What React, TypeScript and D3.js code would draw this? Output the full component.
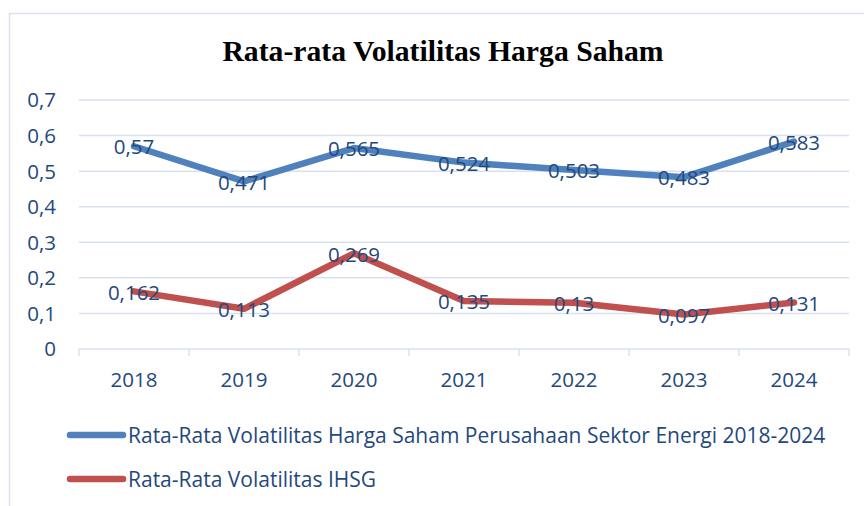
import React from "react";
import * as d3 from "d3";

const years = ["2018", "2019", "2020", "2021", "2022", "2023", "2024"];
const energi = [0.57, 0.471, 0.565, 0.524, 0.503, 0.483, 0.583];
const ihsg = [0.162, 0.113, 0.269, 0.135, 0.13, 0.097, 0.131];
const yTicks = [0, 0.1, 0.2, 0.3, 0.4, 0.5, 0.6, 0.7];
const seriesNames = [
  "Rata-Rata Volatilitas Harga Saham Perusahaan Sektor Energi 2018-2024",
  "Rata-Rata Volatilitas IHSG",
];
const title = "Rata-rata Volatilitas Harga Saham";

const W = 864;
const H = 506;
const left = 79;
const right = 849;
const top = 100;
const bottom = 349;
const FONT = "'Open Sans', sans-serif";
const FS = 20.5;
const TXT = "#1F497D";
const GRID = "#D9E1F0";
const BLUE = "#4F81BD";
const RED = "#C0504D";

const fmt = (v: number) => String(v).replace(".", ",");

export default function App() {
  const x = d3.scaleBand<string>().domain(years).range([left, right]);
  const y = d3.scaleLinear().domain([0, 0.7]).range([bottom, top]);
  const cx = (d: string) => (x(d) as number) + x.bandwidth() / 2;
  const line = d3
    .line<number>()
    .x((_, i) => cx(years[i]))
    .y((v) => y(v));
  const series = [
    { name: seriesNames[0], data: energi, color: BLUE },
    { name: seriesNames[1], data: ihsg, color: RED },
  ];
  const boundaries = [...years.map((d) => x(d) as number), right];

  return (
    <svg width={W} height={H} style={{ position: "absolute", left: 0, top: 0, background: "#fff" }}>
      <line x1={9} x2={W} y1={13.5} y2={13.5} stroke="#D9E1F0" strokeWidth={1.5} />
      <line x1={9.5} x2={9.5} y1={13} y2={H} stroke="#D9E1F0" strokeWidth={1.5} />
      <text
        x={443}
        y={61}
        textAnchor="middle"
        fontFamily="'Liberation Serif', 'Times New Roman', serif"
        fontWeight="bold"
        fontSize={29.7}
        fill="#000"
      >
        {title}
      </text>
      {yTicks.map((t) => (
        <g key={t}>
          <line x1={left} x2={right} y1={y(t)} y2={y(t)} stroke={GRID} strokeWidth={1.5} />
          <text
            x={56}
            y={y(t)}
            dy="0.36em"
            textAnchor="end"
            fontFamily={FONT}
            fontSize={FS}
            fill={TXT}
          >
            {fmt(t)}
          </text>
        </g>
      ))}
      {boundaries.map((b, i) => (
        <line key={i} x1={b} x2={b} y1={bottom} y2={bottom + 7} stroke={GRID} strokeWidth={1.5} />
      ))}
      {years.map((d) => (
        <text
          key={d}
          x={cx(d)}
          y={380}
          dy="0.36em"
          textAnchor="middle"
          fontFamily={FONT}
          fontSize={FS}
          fill={TXT}
        >
          {d}
        </text>
      ))}
      {series.map((s) => (
        <path
          key={s.name}
          d={line(s.data) || ""}
          fill="none"
          stroke={s.color}
          strokeWidth={6.5}
          strokeLinecap="round"
          strokeLinejoin="round"
        />
      ))}
      {series.map((s) =>
        s.data.map((v, i) => (
          <text
            key={s.name + i}
            x={cx(years[i])}
            y={y(v)}
            dy="0.4em"
            textAnchor="middle"
            fontFamily={FONT}
            fontSize={FS}
            fill={TXT}
          >
            {fmt(v)}
          </text>
        ))
      )}
      {series.map((s, i) => {
        const ly = 435 + i * 44;
        return (
          <g key={"lg" + i}>
            <line x1={70} x2={123} y1={ly} y2={ly} stroke={s.color} strokeWidth={6.5} strokeLinecap="round" />
            <text x={128} y={ly} dy="0.36em" fontFamily={FONT} fontSize={21} fill={TXT}>
              {s.name}
            </text>
          </g>
        );
      })}
    </svg>
  );
}
